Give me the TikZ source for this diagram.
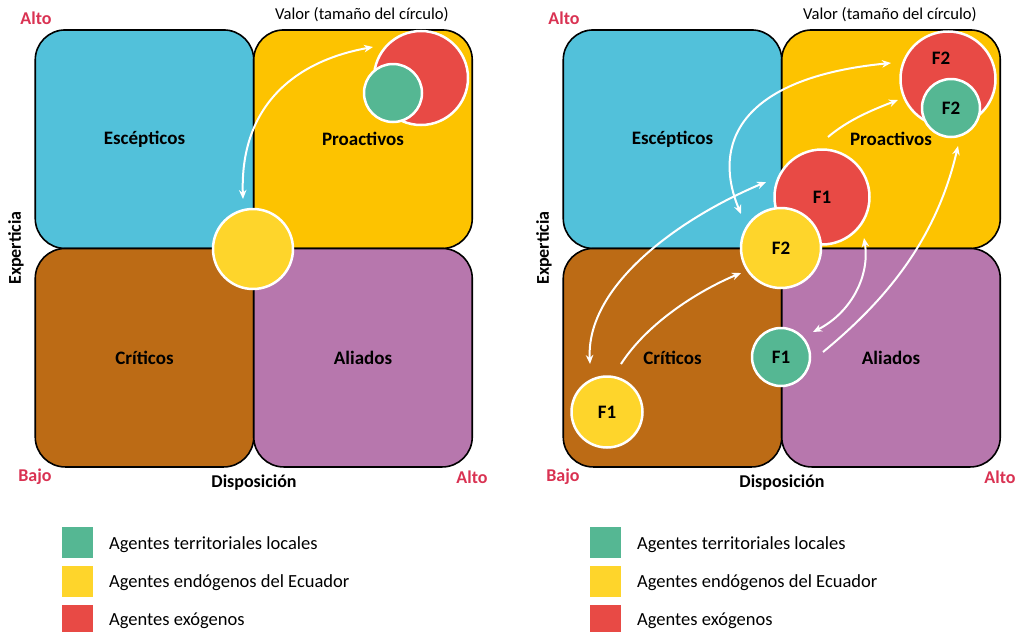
\documentclass[tikz,border=0pt]{standalone}
\usepackage{fontspec}
\setmainfont{Carlito}
\usetikzlibrary{arrows.meta}
\definecolor{qblue}{HTML}{52C1DA}
\definecolor{qgold}{HTML}{FDC300}
\definecolor{qbrown}{HTML}{BC6B15}
\definecolor{qpurple}{HTML}{B777AD}
\definecolor{agreen}{HTML}{55B793}
\definecolor{ayellow}{HTML}{FED52B}
\definecolor{ared}{HTML}{E84A45}
\definecolor{axisred}{HTML}{D93252}
\tikzset{
  quad/.style={draw=black, line width=1.6pt, rounded corners=30pt,
    minimum width=218.5pt, minimum height=218.5pt, inner sep=0pt,
    font=\fontsize{19}{22}\selectfont\bfseries},
  agent/.style={circle, draw=white, line width=2.5pt, inner sep=0pt,
    font=\fontsize{19}{22}\selectfont\bfseries},
  tip/.tip={Stealth[length=9pt,width=7.5pt]},
  flow/.style={draw=white, line width=2pt, -tip},
  bothflow/.style={draw=white, line width=2pt, tip-tip},
  endlabel/.style={text=axisred, font=\fontsize{18}{21}\selectfont\bfseries},
  axislabel/.style={font=\fontsize{18}{21}\selectfont\bfseries},
  sizelabel/.style={font=\fontsize{16.6}{20}\selectfont},
  keybox/.style={minimum size=31pt, inner sep=0pt},
  keytext/.style={anchor=west, inner sep=0pt, font=\fontsize{18.5}{22}\selectfont}
}
\begin{document}
\begin{tikzpicture}[x=1pt, y=-1pt]
\useasboundingbox (0,0) rectangle (1018,632);

% quadrants, axis labels and legend, repeated for both panels
\foreach \p/\dx in {L/0, R/528} {
  \begin{scope}[xshift=\dx pt]
    \node[quad, fill=qblue]   (\p-esc) at (144.5,139.2) {Escépticos};
    \node[quad, fill=qgold]   (\p-pro) at (363,139.2)   {Proactivos};
    \node[quad, fill=qbrown]  (\p-cri) at (144.5,357.7) {Críticos};
    \node[quad, fill=qpurple] (\p-ali) at (363,357.7)   {Aliados};

    \node[endlabel] (\p-alto1) at (36,18)  {Alto};
    \node[endlabel] (\p-bajo)  at (35,477) {Bajo};
    \node[endlabel] (\p-alto2) at (472,477) {Alto};
    \node[axislabel] (\p-disp) at (254,483) {Disposición};
    \node[axislabel, rotate=90] (\p-exp) at (16,248) {Experticia};
    \node[sizelabel] (\p-val) at (362,15) {Valor (tamaño del círculo)};

    \node[keybox, fill=agreen]  (\p-k1) at (77.5,542.5) {};
    \node[keybox, fill=ayellow] (\p-k2) at (77.5,581.5) {};
    \node[keybox, fill=ared]    (\p-k3) at (77.5,620.5) {};
    \node[keytext] (\p-t1) at (109,545) {Agentes territoriales locales};
    \node[keytext] (\p-t2) at (109,583) {Agentes endógenos del Ecuador};
    \node[keytext] (\p-t3) at (109,621) {Agentes exógenos};
  \end{scope}
}

% left panel: agents
\node[agent, fill=ared, minimum size=94pt]   (L-red)    at (421,78) {};
\node[agent, fill=agreen, minimum size=58pt] (L-green)  at (393,93) {};
\node[agent, fill=ayellow, minimum size=80pt] (L-yellow) at (253,249) {};

\coordinate (L-a1) at (243,199);
\coordinate (L-a2) at (373,47);
\draw[bothflow] (L-a1) .. controls (240,110) and (290,62) .. (L-a2);

% right panel: agents
\node[agent, fill=ared, minimum size=95pt]    (R-redF2)    at (948,79)  {};
\node at (941,58) [font=\fontsize{19}{22}\selectfont\bfseries] (R-redF2lab) {F2};
\node[agent, fill=agreen, minimum size=58pt]  (R-greenF2)  at (951,108) {F2};
\node[agent, fill=ared, minimum size=95pt]    (R-redF1)    at (822,197) {F1};
\node[agent, fill=ayellow, minimum size=80pt] (R-yellowF2) at (781,248) {F2};
\node[agent, fill=agreen, minimum size=58pt]  (R-greenF1)  at (781,357) {F1};
\node[agent, fill=ayellow, minimum size=71pt] (R-yellowF1) at (607,412) {F1};

% right panel: transitions
\coordinate (R-b1) at (590,364);
\coordinate (R-b2) at (766,182);
\draw[bothflow] (R-b1) .. controls (586,285) and (680,218) .. (R-b2);

\coordinate (R-c1) at (621,364);
\coordinate (R-c2) at (741,273);
\draw[flow] (R-c1) .. controls (648,322) and (700,290) .. (R-c2);

\coordinate (R-d1) at (741,214);
\coordinate (R-d2) at (891,63);
\draw[bothflow] (R-d1) .. controls (712,145) and (738,78) .. (R-d2);

\coordinate (R-e1) at (828,137);
\coordinate (R-e2) at (898,100);
\draw[flow] (R-e1) .. controls (848,120) and (872,110) .. (R-e2);

\coordinate (R-f1) at (813,332);
\coordinate (R-f2) at (864,238);
\draw[bothflow] (R-f1) .. controls (852,312) and (870,275) .. (R-f2);

\coordinate (R-g1) at (823,352);
\coordinate (R-g2) at (958,146);
\draw[flow] (R-g1) .. controls (880,305) and (935,245) .. (R-g2);
\end{tikzpicture}
\end{document}
